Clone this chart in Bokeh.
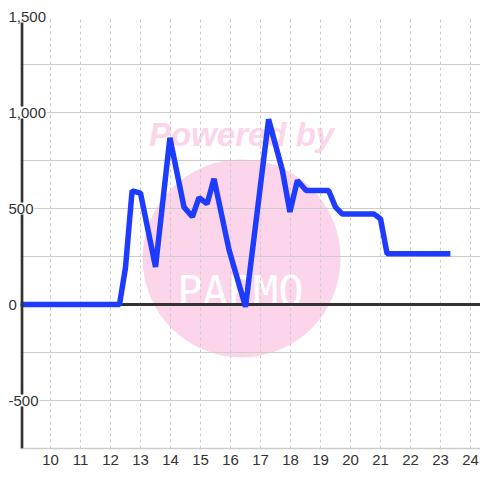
from bokeh.plotting import figure
from bokeh.models import Range1d, FixedTicker, SingleIntervalTicker, Span, ColumnDataSource
from bokeh.core.properties import value
from bokeh.embed import file_html
from bokeh.resources import INLINE

# ---- data ----
hours = [9.0, 12.3, 12.5, 12.72, 13.0, 13.5, 13.98, 14.45, 14.73, 14.95, 15.22, 15.45,
         15.95, 16.5, 17.27, 17.73, 17.98, 18.23, 18.52, 19.27, 19.5, 19.72, 20.78,
         21.0, 21.22, 23.33]
values = [0, 0, 193, 592, 580, 195, 868, 507, 457, 557, 524, 655,
          285, -12, 965, 698, 482, 646, 594, 594, 507, 472, 472,
          446, 264, 264]
x_ticks = [10, 11, 12, 13, 14, 15, 16, 17, 18, 19, 20, 21, 22, 23, 24]
y_ticks = [-500, 0, 500, 1000, 1500]
y_tick_labels = ["-500", "0", "500", "1,000", "1,500"]

FONT = "Liberation Sans"
TXT = "#333333"
GRID = "#cccccc"

p = figure(width=480, height=480, output_backend="svg", toolbar_location=None,
           x_range=Range1d(9, 24.3333), y_range=Range1d(-750, 1500),
           min_border_left=20, min_border_right=0, min_border_top=16, min_border_bottom=32)
p.outline_line_color = None
p.background_fill_color = "white"

# watermark (drawn beneath the grid)
wm1 = p.scatter(x=[16.37], y=[240], size=198, marker="circle",
                fill_color="#fcd5eb", line_color=None)
wm1.level = "image"
wm2 = p.text(x=[16.37], y=[885], text=["Powered by"], text_font=value(FONT),
             text_font_style="bold italic", text_font_size="33px", text_color="#fcd5eb",
             text_align="center", text_baseline="middle")
wm2.level = "image"
wm3 = p.text(x=[16.33], y=[68], text=["PAPMO"], text_font=value("DejaVu Sans Mono"),
             text_font_size="42px", text_color="white",
             text_align="center", text_baseline="middle")
wm3.level = "image"

# grids
p.ygrid.ticker = SingleIntervalTicker(interval=250, num_minor_ticks=0)
p.ygrid.grid_line_color = GRID
p.ygrid.grid_line_width = 1
p.xgrid.ticker = FixedTicker(ticks=x_ticks)
p.xgrid.grid_line_color = GRID
p.xgrid.grid_line_dash = "3 3"
p.xgrid.grid_line_width = 1

# axes
p.yaxis.visible = False
p.xaxis.ticker = FixedTicker(ticks=x_ticks)
p.xaxis.axis_line_color = GRID
p.xaxis.axis_line_width = 1.5
p.xaxis.major_tick_line_color = None
p.xaxis.minor_tick_line_color = None
p.xaxis.major_tick_out = 0
p.xaxis.major_tick_in = 0
p.xaxis.major_label_standoff = 6
p.xaxis.major_label_text_font = FONT
p.xaxis.major_label_text_font_size = "15px"
p.xaxis.major_label_text_color = TXT

zero = Span(location=0, dimension="width", line_color=TXT, line_width=3)
zero.level = "underlay"
p.add_layout(zero)

# data line
p.line(hours, values, line_color="#1e3cff", line_width=5.5, line_join="bevel")

# y axis line
yline = Span(location=9.045, dimension="height", line_color=TXT, line_width=3)
p.add_layout(yline)

# y tick labels with white background
ysrc = ColumnDataSource(dict(x=[9] * len(y_ticks), y=y_ticks, t=y_tick_labels))
lab = p.text(x="x", y="y", text="t", source=ysrc, x_offset=-13,
             text_font=value(FONT), text_font_size="15px", text_color=TXT,
             text_align="left", text_baseline="middle",
             background_fill_color="white", padding=1)
lab.level = "overlay"

open("out.html", "w").write(file_html(p, INLINE))
